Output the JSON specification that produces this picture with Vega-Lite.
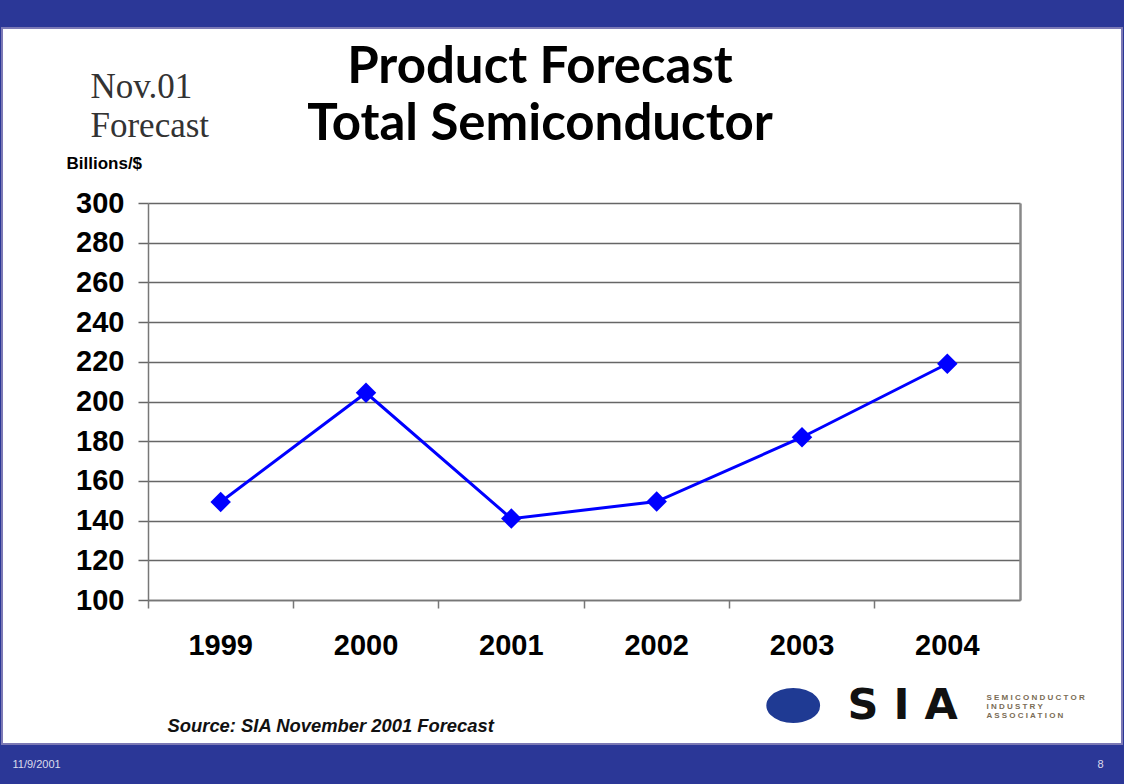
{
  "$schema": "https://vega.github.io/schema/vega-lite/v6.json",
  "width": 1120,
  "height": 716,
  "autosize": {"type": "none"},
  "padding": {"left": 2, "right": 2, "top": 28, "bottom": 40},
  "background": "#2B3797",
  "config": {
    "view": {"fill": "#FFFFFF", "stroke": "#7C79B5", "strokeWidth": 2},
    "axis": {"titleFontWeight": "normal"}
  },
  "title": {
    "text": ["Product Forecast", "Total Semiconductor"],
    "font": "Lato",
    "fontSize": 51,
    "fontWeight": "bold",
    "color": "#000000",
    "lineHeight": 57,
    "anchor": "middle",
    "frame": "group",
    "dx": -22,
    "offset": -123
  },
  "data": {
    "values": [
      {"year": "1999", "value": 149.4},
      {"year": "2000", "value": 204.4},
      {"year": "2001", "value": 141.0},
      {"year": "2002", "value": 149.6},
      {"year": "2003", "value": 182.0},
      {"year": "2004", "value": 219.0}
    ]
  },
  "resolve": {
    "scale": {"x": "independent", "y": "independent"},
    "axis": {"x": "independent", "y": "independent"}
  },
  "layer": [
    {
      "mark": {"type": "line", "color": "#0000FF", "strokeWidth": 3},
      "encoding": {
        "x": {
          "field": "year", "type": "ordinal",
          "scale": {"type": "band", "range": [146, 1018], "paddingInner": 0, "paddingOuter": 0},
          "axis": {
            "orient": "bottom", "offset": -144,
            "domain": true, "domainColor": "#777777", "domainWidth": 1.5,
            "ticks": false, "tickSize": 0, "grid": false,
            "labelFont": "Liberation Sans", "labelFontWeight": "bold", "labelFontSize": 29,
            "labelColor": "#000000", "labelPadding": 31, "labelAngle": 0,
            "title": "Source: SIA November 2001 Forecast",
            "titleX": 165, "titleY": 131, "titleAlign": "left", "titleBaseline": "alphabetic",
            "titleFont": "Liberation Sans", "titleFontSize": 18.4, "titleFontStyle": "italic",
            "titleFontWeight": "bold", "titleColor": "#111111"
          }
        },
        "y": {
          "field": "value", "type": "quantitative",
          "scale": {"domain": [100, 300], "range": [572, 175], "zero": false, "nice": false},
          "axis": {
            "orient": "left", "offset": -146,
            "values": [100, 120, 140, 160, 180, 200, 220, 240, 260, 280, 300],
            "domain": true, "domainColor": "#777777", "domainWidth": 1.5,
            "ticks": true, "tickSize": 10, "tickColor": "#666666", "tickWidth": 1.5,
            "grid": true, "gridColor": "#666666", "gridWidth": 1.5,
            "labelFont": "Liberation Sans", "labelFontWeight": "bold", "labelFontSize": 29,
            "labelColor": "#000000", "labelPadding": 14,
            "title": "Billions/$",
            "titleX": -82, "titleY": 140, "titleAngle": 0, "titleAlign": "left", "titleBaseline": "alphabetic",
            "titleFont": "Liberation Sans", "titleFontSize": 17, "titleFontWeight": "bold", "titleColor": "#000000"
          }
        }
      }
    },
    {
      "mark": {"type": "point", "shape": "diamond", "filled": true, "color": "#0000FF", "size": 420, "opacity": 1},
      "encoding": {
        "x": {
          "field": "year", "type": "ordinal",
          "scale": {"type": "band", "range": [146, 1018], "paddingInner": 0, "paddingOuter": 0},
          "axis": {
            "orient": "bottom", "offset": -144, "bandPosition": 0,
            "domain": false, "labels": false, "grid": false,
            "ticks": true, "tickSize": 8, "tickColor": "#777777", "tickWidth": 1.5,
            "title": "11/9/2001",
            "titleX": 10, "titleY": 167, "titleAlign": "left", "titleBaseline": "alphabetic",
            "titleFont": "Liberation Sans", "titleFontSize": 11, "titleColor": "#DCDCEC"
          }
        },
        "y": {
          "field": "value", "type": "quantitative",
          "scale": {"domain": [100, 300], "range": [572, 175], "zero": false, "nice": false},
          "axis": {
            "orient": "right", "offset": -102,
            "domain": true, "domainColor": "#888888", "domainWidth": 2.5,
            "ticks": false, "labels": false, "grid": false,
            "title": ["Nov.01", "Forecast"],
            "titleX": -930, "titleY": 69, "titleAngle": 0, "titleAlign": "left", "titleBaseline": "alphabetic",
            "titleFont": "Liberation Serif", "titleFontSize": 35, "titleColor": "#333333", "titleLineHeight": 39
          }
        }
      }
    },
    {
      "mark": {"type": "point", "opacity": 0},
      "encoding": {
        "x": {
          "field": "year", "type": "ordinal",
          "scale": {"type": "band", "range": [146, 1018], "paddingInner": 0, "paddingOuter": 0},
          "axis": {
            "orient": "bottom", "offset": -144,
            "domain": false, "labels": false, "ticks": false, "grid": false,
            "title": "8",
            "titleX": 1095, "titleY": 167, "titleAlign": "left", "titleBaseline": "alphabetic",
            "titleFont": "Liberation Sans", "titleFontSize": 11, "titleColor": "#DCDCEC"
          }
        },
        "y": {
          "field": "value", "type": "quantitative",
          "scale": {"domain": [100, 300], "range": [572, 175], "zero": false, "nice": false},
          "axis": {
            "orient": "left", "offset": -146,
            "domain": false, "labels": false, "ticks": false, "grid": false,
            "title": "S I A",
            "titleX": 699, "titleY": 690, "titleAngle": 0, "titleAlign": "left", "titleBaseline": "alphabetic",
            "titleFont": "DejaVu Sans", "titleFontSize": 43, "titleFontWeight": "bold", "titleColor": "#111111"
          }
        }
      }
    },
    {
      "mark": {"type": "point", "opacity": 0},
      "encoding": {
        "x": {
          "field": "year", "type": "ordinal",
          "scale": {"type": "band", "range": [146, 1018], "paddingInner": 0, "paddingOuter": 0},
          "axis": {
            "orient": "bottom", "offset": -144,
            "domain": false, "labels": false, "ticks": false, "grid": false,
            "title": ["S E M I C O N D U C T O R", "I N D U S T R Y", "A S S O C I A T I O N"],
            "titleX": 984, "titleY": 99, "titleAlign": "left", "titleBaseline": "alphabetic",
            "titleFont": "Liberation Sans", "titleFontSize": 8, "titleFontWeight": "bold",
            "titleColor": "#7A6C55", "titleLineHeight": 9
          }
        },
        "y": {
          "field": "value", "type": "quantitative",
          "scale": {"domain": [100, 300], "range": [572, 175], "zero": false, "nice": false},
          "axis": {
            "orient": "left", "offset": -146,
            "domain": false, "labels": false, "ticks": false, "grid": false,
            "title": "⬬",
            "titleX": 644, "titleY": 678, "titleAngle": 0, "titleAlign": "center", "titleBaseline": "middle",
            "titleFont": "DejaVu Sans", "titleFontSize": 66, "titleColor": "#1F3A93"
          }
        }
      }
    }
  ]
}
